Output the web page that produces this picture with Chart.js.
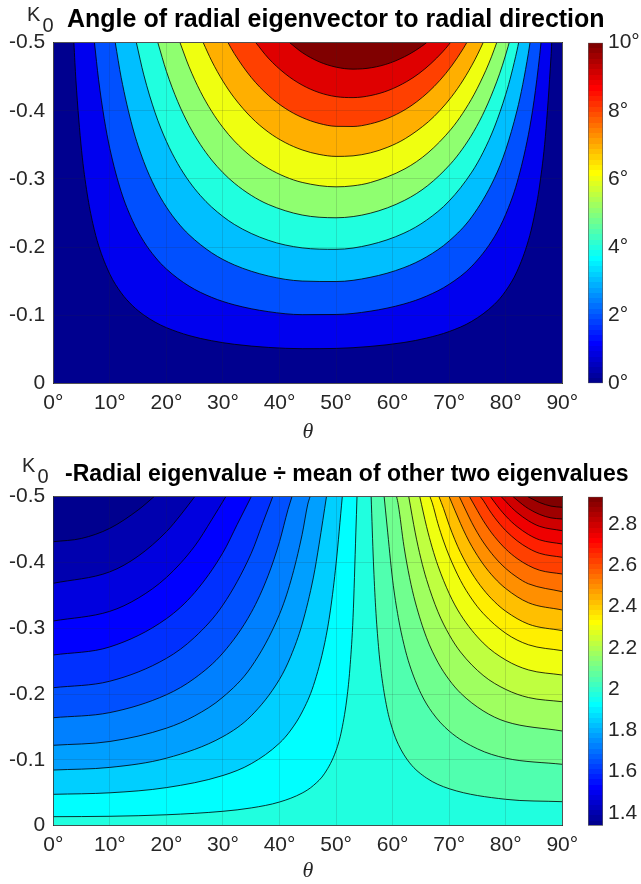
<!DOCTYPE html>
<html>
<head>
<meta charset="utf-8">
<title>Radial eigenvector contours</title>
<script src="https://cdn.jsdelivr.net/npm/chart.js@4.4.1/dist/chart.umd.min.js"></script>
<style>
  body { margin: 0; background: #fff; }
  .box { position: absolute; }
</style>
</head>
<body>
<div class="box" style="left:0;top:0;width:641px;height:445px"><canvas id="angleChart"></canvas></div>
<div class="box" style="left:575px;top:0;width:66px;height:445px"><canvas id="angleBar"></canvas></div>
<div class="box" style="left:0;top:445px;width:641px;height:439px"><canvas id="ratioChart"></canvas></div>
<div class="box" style="left:575px;top:445px;width:66px;height:439px"><canvas id="ratioBar"></canvas></div>
<script>
// texts
const angleTitle = 'Angle of radial eigenvector to radial direction';
const ratioTitle = '-Radial eigenvalue \u00f7 mean of other two eigenvalues';
const thetaLabel = '\u03b8';

// axis ticks
const thetaTicks = [0, 10, 20, 30, 40, 50, 60, 70, 80, 90];
const kTicks = [-0.5, -0.4, -0.3, -0.2, -0.1, 0];
const angleBarTicks = [0, 2, 4, 6, 8, 10];
const ratioBarTicks = [1.4, 1.6, 1.8, 2, 2.2, 2.4, 2.6, 2.8];

// colour limits of the two colour bars
const angleRange = [0, 10];
const ratioRange = [1.338, 2.933];

// contour levels (degrees), one line each in angleContours
const angleLevels = [1, 2, 3, 4, 5, 6, 7, 8, 9, 10];

// [theta, K0] along each angle contour
const angleContours = [
  [[3.64,-0.5],[4,-0.4449],[5,-0.342],[6,-0.278],[7,-0.2344],[8,-0.2028],[10,-0.1602],[12,-0.1329],[14,-0.114],[16,-0.1003],[18,-0.0898],[20,-0.0817],[24,-0.0701],[28,-0.0625],[32,-0.0573],[38,-0.0527],[44,-0.0508],[50,-0.0512],[56,-0.0541],[62,-0.0599],[66,-0.0664],[70,-0.076],[74,-0.091],[78,-0.116],[80,-0.1357],[82,-0.1644],[84,-0.2096],[85,-0.2436],[86,-0.2911],[87,-0.362],[88,-0.4795],[88.13,-0.5]],
  [[7.28,-0.5],[8,-0.4464],[9,-0.3887],[10,-0.3445],[12,-0.2815],[14,-0.2389],[16,-0.2083],[18,-0.1854],[20,-0.1678],[24,-0.1427],[28,-0.1262],[32,-0.1152],[38,-0.1052],[44,-0.1008],[50,-0.101],[56,-0.1058],[62,-0.1164],[66,-0.128],[70,-0.1454],[74,-0.1719],[78,-0.2151],[80,-0.2481],[82,-0.2947],[84,-0.3648],[85,-0.4148],[86,-0.4813],[86.23,-0.5]],
  [[10.96,-0.5],[12,-0.449],[14,-0.3764],[16,-0.3253],[18,-0.2875],[20,-0.2587],[22,-0.2361],[24,-0.2181],[28,-0.1916],[32,-0.1738],[38,-0.1576],[44,-0.1501],[50,-0.1494],[56,-0.1555],[62,-0.1698],[66,-0.1856],[70,-0.209],[74,-0.2444],[78,-0.3009],[80,-0.3429],[82,-0.4007],[83,-0.4384],[84,-0.4845],[84.29,-0.5]],
  [[14.69,-0.5],[16,-0.4528],[18,-0.3972],[20,-0.3551],[22,-0.3225],[24,-0.2966],[26,-0.2757],[28,-0.2587],[32,-0.2333],[38,-0.21],[44,-0.1988],[50,-0.1967],[56,-0.2034],[62,-0.2204],[66,-0.2395],[70,-0.2677],[74,-0.31],[76,-0.3391],[78,-0.3761],[80,-0.4242],[81,-0.4541],[82,-0.489],[82.28,-0.5]],
  [[18.49,-0.5],[20,-0.4579],[22,-0.4136],[24,-0.3786],[26,-0.3506],[28,-0.3278],[30,-0.3092],[32,-0.2939],[35,-0.2759],[38,-0.2626],[44,-0.247],[50,-0.243],[56.05,-0.2497],[62.14,-0.2687],[66.21,-0.2903],[70.27,-0.3223],[72.3,-0.3435],[74.34,-0.3696],[76.37,-0.402],[78.4,-0.4426],[79.42,-0.467],[80.43,-0.4948],[80.6,-0.5]],
  [[22.41,-0.5],[24,-0.4647],[26,-0.4285],[28,-0.3993],[30,-0.3754],[32,-0.3558],[35,-0.3327],[38,-0.3156],[41,-0.3032],[44,-0.2949],[50,-0.2884],[53,-0.2899],[56.06,-0.2947],[62.18,-0.3149],[66.26,-0.3384],[70.34,-0.3731],[72.38,-0.3962],[74.42,-0.4243],[76.46,-0.459],[77.48,-0.4793],[78.4,-0.5]],
  [[26.51,-0.5],[28,-0.4733],[30,-0.4435],[32,-0.4191],[35,-0.3903],[38,-0.3689],[41,-0.3534],[44,-0.3426],[47,-0.336],[50,-0.3331],[53,-0.3339],[56.08,-0.3383],[59.15,-0.3466],[62.23,-0.3592],[66.33,-0.384],[68.38,-0.4007],[70.43,-0.4208],[72.48,-0.4452],[74.53,-0.4748],[75.55,-0.492],[76,-0.5]],
  [[30.9,-0.5],[32,-0.4841],[35,-0.449],[38,-0.4229],[41,-0.4037],[44,-0.3902],[47,-0.3815],[50,-0.3772],[53,-0.377],[56.07,-0.3809],[59.14,-0.389],[62.22,-0.4018],[64.26,-0.4133],[66.31,-0.4275],[68.36,-0.4448],[70.41,-0.4657],[72.46,-0.491],[73.1,-0.5]],
  [[35.81,-0.5],[38,-0.4775],[41,-0.4544],[44,-0.4378],[47,-0.4268],[50,-0.4208],[53,-0.4194],[56.17,-0.4225],[59.34,-0.4302],[62.51,-0.443],[64.63,-0.4546],[66.74,-0.4691],[68.86,-0.4867],[69.91,-0.4969],[70.2,-0.5]],
  [[41.8,-0.5],[44,-0.4856],[47,-0.472],[50,-0.4641],[53,-0.4612],[56.3,-0.4633],[59.6,-0.4704],[62.9,-0.4829],[65.1,-0.4944],[66,-0.5]]
];

// eigenvalue ratio levels below and above the central band
const ratioLowLevels = [1.402, 1.466, 1.529, 1.593, 1.657, 1.721, 1.785, 1.848, 1.912, 1.976];
const ratioHighLevels = [2.040, 2.104, 2.167, 2.231, 2.295, 2.359, 2.423, 2.486, 2.550, 2.614, 2.678, 2.742, 2.805, 2.869, 2.933];

// [theta, K0] along the left-hand ratio contours (run from the left edge up to the top edge)
const ratioLowContours = [
  [[0,-0.4316],[5,-0.4366],[10,-0.452],[15,-0.4798],[17.8,-0.5]],
  [[0,-0.3684],[10,-0.3858],[15,-0.4096],[20,-0.4468],[22.5,-0.4721],[25,-0.5]],
  [[0,-0.3111],[10,-0.3258],[15,-0.3458],[20,-0.3773],[25,-0.4249],[28,-0.4648],[30.5,-0.5]],
  [[0,-0.2594],[10,-0.2717],[20,-0.3146],[25,-0.3543],[30,-0.415],[32.5,-0.4575],[35,-0.5]],
  [[0,-0.2097],[10,-0.2196],[20,-0.2543],[25,-0.2864],[30,-0.3355],[35,-0.414],[37,-0.4592],[38.8,-0.5]],
  [[0,-0.1641],[10,-0.1719],[20,-0.199],[25,-0.2241],[30,-0.2626],[35,-0.324],[38,-0.3804],[40,-0.4316],[41.5,-0.4805],[42.2,-0.5]],
  [[0,-0.1222],[10,-0.128],[20,-0.1482],[25,-0.1669],[30,-0.1955],[35,-0.2413],[40,-0.3214],[42,-0.3721],[44,-0.4426],[45,-0.4888],[45.4,-0.5]],
  [[0,-0.0846],[10,-0.0886],[20,-0.1026],[30,-0.1354],[35,-0.167],[40,-0.2225],[42,-0.2576],[44,-0.3064],[46,-0.3778],[47,-0.4279],[48.3,-0.5]],
  [[0,-0.0477],[10,-0.05],[20,-0.0579],[30,-0.0763],[35,-0.0942],[40,-0.1255],[42,-0.1453],[44,-0.1728],[46,-0.213],[48,-0.278],[49,-0.3276],[50,-0.3982],[51.1,-0.5]],
  [[0,-0.0137],[10,-0.0143],[20,-0.0166],[30,-0.0219],[35,-0.027],[40,-0.036],[44,-0.0496],[46,-0.0612],[48,-0.0798],[50,-0.1144],[51,-0.1457],[52,-0.1997],[52.5,-0.2451],[53,-0.3163],[53.5,-0.4462],[53.7,-0.5]]
];

// [theta, K0] along the right-hand ratio contours (run from the top edge to the right edge)
const ratioHighContours = [
  [[56.2,-0.5],[56.6,-0.402],[57,-0.3312],[57.5,-0.2724],[58,-0.2316],[59,-0.1787],[60,-0.146],[61,-0.1237],[63,-0.0956],[66,-0.0724],[70,-0.0562],[80,-0.0401],[90,-0.0365]],
  [[58.5,-0.5],[59,-0.4569],[60,-0.3732],[61,-0.3163],[62,-0.2754],[63,-0.2444],[65,-0.201],[67,-0.1721],[70,-0.1438],[75,-0.1168],[80,-0.1026],[90,-0.0933]],
  [[60.7,-0.5],[61,-0.4878],[62,-0.4247],[63,-0.3769],[64,-0.3399],[66,-0.2856],[68,-0.2484],[70,-0.2217],[72,-0.2016],[76,-0.1746],[80,-0.1582],[90,-0.1439]],
  [[62.85,-0.5],[64,-0.445],[65,-0.4058],[66,-0.374],[68,-0.3253],[70,-0.2903],[72,-0.264],[76,-0.2285],[80,-0.2071],[84,-0.1948],[90,-0.1884]],
  [[64.8,-0.5],[66,-0.4545],[67,-0.4225],[68,-0.3954],[70,-0.3528],[72,-0.3209],[76,-0.2778],[80,-0.2518],[84,-0.2368],[90,-0.229]],
  [[66.6,-0.5],[67,-0.4908],[68,-0.4592],[69,-0.4326],[70,-0.4099],[72,-0.3727],[74,-0.3445],[76,-0.3227],[80,-0.2924],[84,-0.275],[90,-0.266]],
  [[68.2,-0.5],[69,-0.4821],[70,-0.4567],[71,-0.4346],[72,-0.4153],[74,-0.3839],[76,-0.3595],[78,-0.3405],[80,-0.3259],[84,-0.3064],[90,-0.2964]],
  [[70,-0.5],[72,-0.4593],[73,-0.4408],[74,-0.4246],[76,-0.3976],[78,-0.3766],[80,-0.3604],[84,-0.3389],[90,-0.3278]],
  [[71.8,-0.5],[73,-0.4782],[74,-0.4606],[75,-0.4451],[76,-0.4313],[78,-0.4086],[80,-0.3909],[82,-0.3776],[84,-0.3677],[90,-0.3556]],
  [[73.6,-0.5],[75,-0.4787],[76,-0.464],[77,-0.451],[78,-0.4395],[80,-0.4205],[82,-0.4061],[84,-0.3955],[86,-0.3882],[90,-0.3825]],
  [[75.5,-0.5],[76,-0.4948],[77,-0.4809],[78,-0.4686],[79,-0.4579],[80,-0.4484],[82,-0.4331],[84,-0.4217],[86,-0.4139],[90,-0.4079]],
  [[77.3,-0.5],[78,-0.4918],[79,-0.4806],[80,-0.4707],[81,-0.462],[82,-0.4546],[84,-0.4426],[86,-0.4344],[90,-0.4281]],
  [[79.2,-0.5],[80,-0.4929],[81,-0.4838],[82,-0.476],[84,-0.4635],[86,-0.4549],[90,-0.4483]],
  [[81.3,-0.5],[82,-0.4949],[83,-0.4879],[84,-0.4819],[86,-0.473],[88,-0.4678],[90,-0.4661]],
  [[83.9,-0.5],[85,-0.4952],[86,-0.4911],[88,-0.4857],[90,-0.4839]]
];

const inkGray = '#262626';
const boxGray = 'rgba(38,38,38,0.75)';
const gridGray = 'rgba(38,38,38,0.15)';
const sans = '"Liberation Sans", Arial, Helvetica, sans-serif';
const tickFont = { family: sans, size: 21 };

Chart.defaults.font.family = sans;

// MATLAB style 64 step jet colour map, row 1..64
function jetRow(r) {
  const t = r / 64;
  const f = v => Math.round(255 * Math.max(0, Math.min(1, v)));
  return 'rgb(' + f(1.5 - Math.abs(4 * t - 3)) + ',' + f(1.5 - Math.abs(4 * t - 2)) + ',' + f(1.5 - Math.abs(4 * t - 1)) + ')';
}

function levelColor(v, range) {
  const r = Math.floor((v - range[0]) / (range[1] - range[0]) * 64 + 1e-6) + 1;
  return jetRow(Math.max(1, Math.min(64, r)));
}

function jetGradient(chart) {
  const a = chart.chartArea;
  if (!a) return null;
  const g = chart.ctx.createLinearGradient(0, a.bottom, 0, a.top);
  for (let i = 0; i < 64; i++) {
    g.addColorStop(i / 64, jetRow(i + 1));
    g.addColorStop((i + 1) / 64, jetRow(i + 1));
  }
  return g;
}

function contourLine(points, color, width, order) {
  return {
    data: points.map(p => ({ x: p[0], y: p[1] })),
    xAxisID: 'x',
    yAxisID: 'y',
    borderColor: '#000',
    borderWidth: width,
    backgroundColor: color,
    fill: { value: -0.5 },
    pointRadius: 0,
    cubicInterpolationMode: 'monotone',
    order: order
  };
}

// title and K0 label drawn over the axes
const panelText = {
  id: 'panelText',
  afterDraw(chart, args, o) {
    const c = chart.ctx;
    c.save();
    c.textBaseline = 'alphabetic';
    c.textAlign = 'left';
    c.fillStyle = '#000';
    c.font = 'bold ' + o.titleSize + 'px ' + sans;
    c.fillText(o.title, o.titleX, o.titleY);
    c.fillStyle = inkGray;
    c.font = '20px ' + sans;
    c.fillText('K', o.kX, o.kY);
    c.fillText('0', o.subX, o.subY);
    c.restore();
  }
};

function contourChart(id, datasets, cfg) {
  const border = { color: boxGray, width: 1, z: 2 };
  return new Chart(document.getElementById(id), {
    type: 'line',
    data: { datasets: datasets },
    options: {
      animation: false,
      responsive: true,
      maintainAspectRatio: false,
      events: [],
      plugins: {
        legend: { display: false },
        tooltip: { enabled: false },
        panelText: cfg.text
      },
      scales: {
        x: {
          type: 'linear', min: 0, max: 90,
          afterBuildTicks: s => { s.ticks = thetaTicks.map(v => ({ value: v })); },
          afterFit: s => { s.height = cfg.bottomGap; },
          ticks: { callback: v => v + '\u00b0', color: inkGray, font: tickFont, padding: 7, maxRotation: 0, autoSkip: false, z: 1 },
          grid: { color: gridGray, drawTicks: false, z: 1 },
          border: border,
          title: {
            display: true, text: thetaLabel, color: inkGray,
            font: { family: '"Liberation Serif", "DejaVu Serif", serif', style: 'italic', size: 22, lineHeight: 1 },
            padding: { top: 0, bottom: 1.5 }
          }
        },
        y: {
          type: 'linear', min: -0.5, max: 0, reverse: true,
          afterBuildTicks: s => { s.ticks = kTicks.map(v => ({ value: v })); },
          afterFit: s => { s.width = 53.3; },
          ticks: { callback: v => (v === 0 ? '0' : v.toFixed(1)), color: inkGray, font: tickFont, padding: 8, z: 1 },
          grid: { color: gridGray, drawTicks: false, z: 1 },
          border: border
        },
        xTop: {
          type: 'linear', position: 'top', min: 0, max: 90,
          afterFit: s => { s.height = cfg.topGap; },
          ticks: { display: false },
          grid: { display: false, drawTicks: false },
          border: border
        },
        yRight: {
          type: 'linear', position: 'right', min: 0, max: 1,
          afterFit: s => { s.width = 641 - 562.3; },
          ticks: { display: false },
          grid: { display: false, drawTicks: false },
          border: border
        }
      }
    },
    plugins: [panelText]
  });
}

function colorBar(id, cfg) {
  return new Chart(document.getElementById(id), {
    type: 'bar',
    data: {
      labels: [''],
      datasets: [{
        data: [[cfg.range[0], cfg.range[1]]],
        backgroundColor: c => jetGradient(c.chart),
        borderColor: boxGray,
        borderWidth: 1,
        borderSkipped: false,
        barPercentage: 1,
        categoryPercentage: 1
      }]
    },
    options: {
      animation: false,
      responsive: true,
      maintainAspectRatio: false,
      events: [],
      layout: { padding: { left: 13, right: 0, top: cfg.top, bottom: cfg.bottom } },
      plugins: { legend: { display: false }, tooltip: { enabled: false } },
      scales: {
        x: { display: false },
        y: {
          position: 'right', min: cfg.range[0], max: cfg.range[1],
          afterBuildTicks: s => { s.ticks = cfg.ticks.map(v => ({ value: v })); },
          afterFit: s => { s.width = 38; },
          ticks: { callback: cfg.format, color: inkGray, font: tickFont, padding: 5 },
          grid: { display: false, drawTicks: false },
          border: { display: false }
        }
      }
    }
  });
}

// top panel: bands rise with each level, darkest blue underneath
const angleSets = [contourLine([[0, 0], [90, 0]], jetRow(1), 0, 100)];
angleContours.forEach((pts, i) => {
  angleSets.push(contourLine(pts, levelColor(angleLevels[i], angleRange), 0.8, -(i + 1)));
});

contourChart('angleChart', angleSets, {
  topGap: 42.7,
  bottomGap: 445 - 383.3,
  text: { title: angleTitle, titleSize: 25, titleX: 67, titleY: 27, kX: 27, kY: 20.7, subX: 42.5, subY: 32 }
});

colorBar('angleBar', {
  range: angleRange, ticks: angleBarTicks, top: 42.7, bottom: 445 - 383.3,
  format: v => v + '\u00b0'
});

// bottom panel: central band underneath, lower bands to the top left, higher bands to the top right
const ratioSets = [contourLine([[0, 0], [90, 0]], levelColor(ratioLowLevels[9], ratioRange), 0, 100)];
ratioLowContours.forEach((pts, i) => {
  const below = i === 0 ? jetRow(1) : levelColor(ratioLowLevels[i - 1], ratioRange);
  ratioSets.push(contourLine(pts, below, 0.8, i + 1));
});
ratioHighContours.forEach((pts, i) => {
  ratioSets.push(contourLine(pts, levelColor(ratioHighLevels[i], ratioRange), 0.8, -(i + 11)));
});

contourChart('ratioChart', ratioSets, {
  topGap: 496.7 - 445,
  bottomGap: 439 - (825.7 - 445),
  text: { title: ratioTitle, titleSize: 23, titleX: 65, titleY: 36, kX: 22, kY: 26.7, subX: 37.5, subY: 38.3 }
});

colorBar('ratioBar', {
  range: ratioRange, ticks: ratioBarTicks, top: 496.7 - 445, bottom: 439 - (825.7 - 445),
  format: v => String(Math.round(v * 10) / 10)
});
</script>
</body>
</html>
